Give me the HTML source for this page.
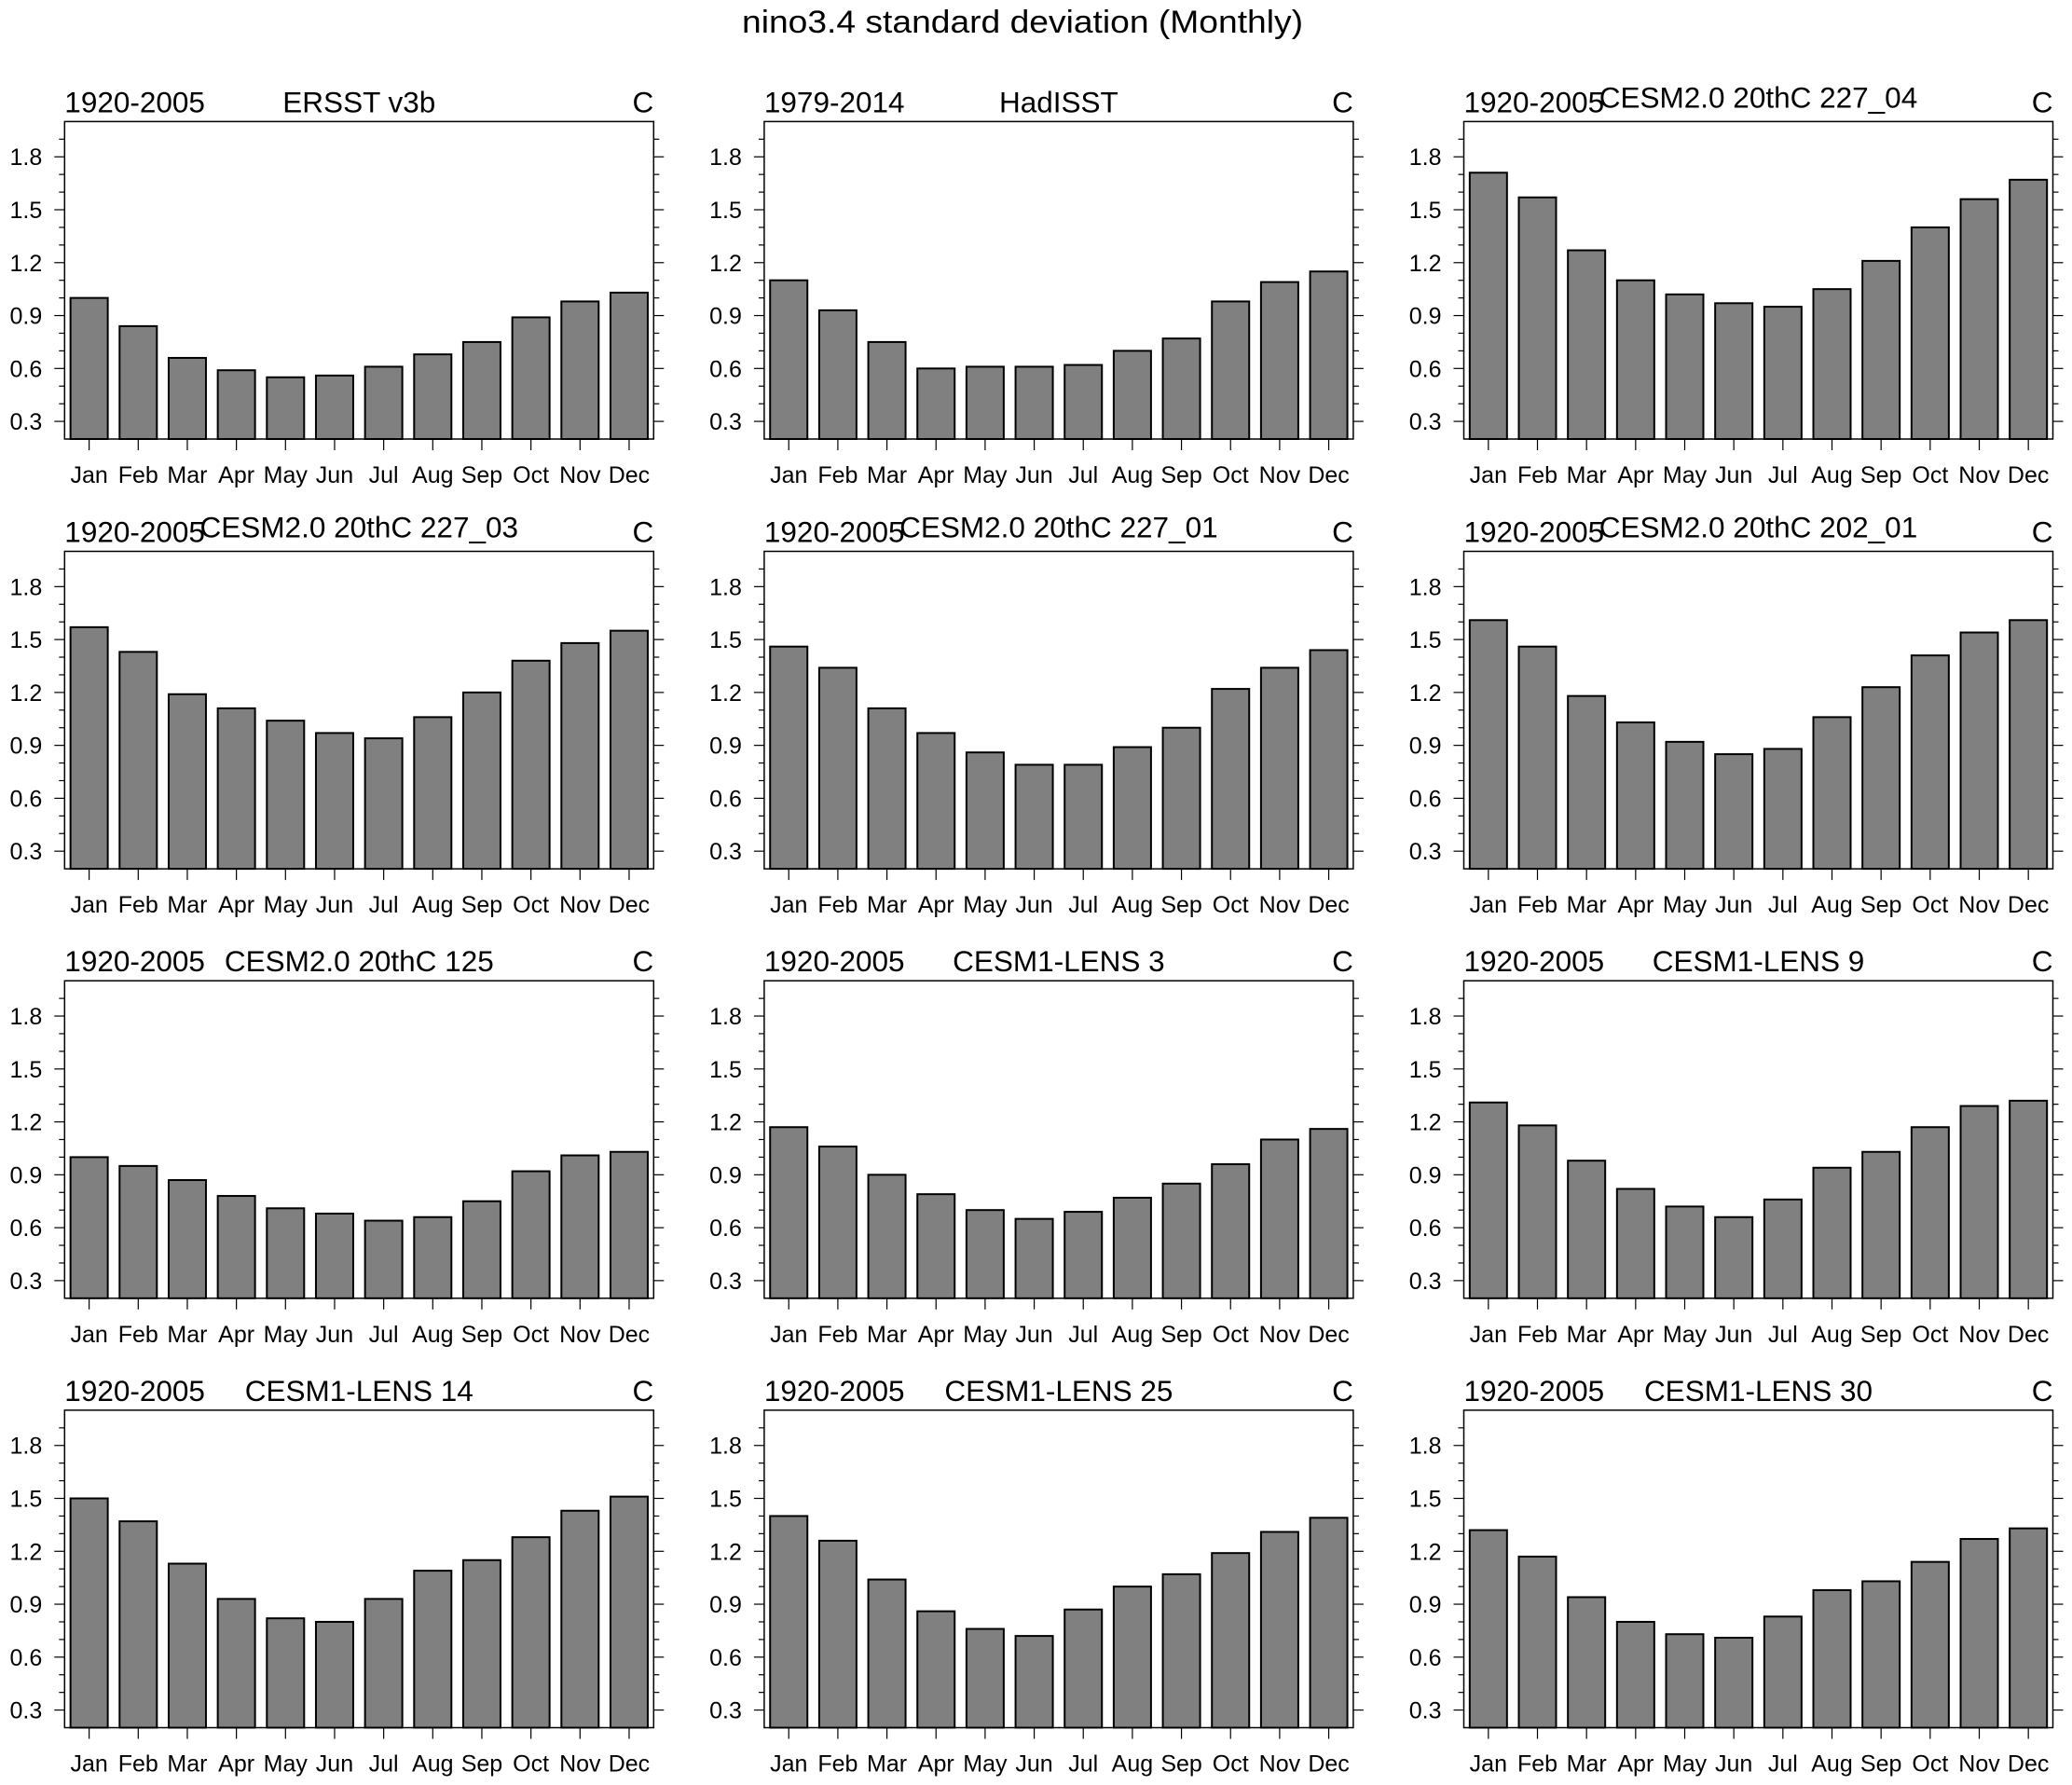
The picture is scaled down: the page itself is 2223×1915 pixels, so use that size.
<!DOCTYPE html>
<html><head><meta charset="utf-8"><style>
html,body{margin:0;padding:0;background:#fff;}
svg{display:block;font-family:"Liberation Sans",Arial,sans-serif;}
</style></head><body>
<svg id="fig" width="2223" height="1915" viewBox="0 0 2223 1915" xmlns="http://www.w3.org/2000/svg">
<rect x="0" y="0" width="2223" height="1915" fill="#fff"/>
<text x="1097" y="35" font-size="34" text-anchor="middle" textLength="602" lengthAdjust="spacingAndGlyphs">nino3.4 standard deviation (Monthly)</text>
</svg>
<script>
const months = ["Jan","Feb","Mar","Apr","May","Jun","Jul","Aug","Sep","Oct","Nov","Dec"];
const panelNames = ["ERSST v3b","HadISST","CESM2.0 20thC 227_04","CESM2.0 20thC 227_03","CESM2.0 20thC 227_01","CESM2.0 20thC 202_01","CESM2.0 20thC 125","CESM1-LENS 3","CESM1-LENS 9","CESM1-LENS 14","CESM1-LENS 25","CESM1-LENS 30"];
const periods = ["1920-2005","1979-2014","1920-2005","1920-2005","1920-2005","1920-2005","1920-2005","1920-2005","1920-2005","1920-2005","1920-2005","1920-2005"];
const yTicks = [0.3,0.6,0.9,1.2,1.5,1.8];
const yTickLabels = ["0.3","0.6","0.9","1.2","1.5","1.8"];
const ersst = [1.00,0.84,0.66,0.59,0.55,0.56,0.61,0.68,0.75,0.89,0.98,1.03];
const hadisst = [1.10,0.93,0.75,0.60,0.61,0.61,0.62,0.70,0.77,0.98,1.09,1.15];
const cesm2_227_04 = [1.71,1.57,1.27,1.10,1.02,0.97,0.95,1.05,1.21,1.40,1.56,1.67];
const cesm2_227_03 = [1.57,1.43,1.19,1.11,1.04,0.97,0.94,1.06,1.20,1.38,1.48,1.55];
const cesm2_227_01 = [1.46,1.34,1.11,0.97,0.86,0.79,0.79,0.89,1.00,1.22,1.34,1.44];
const cesm2_202_01 = [1.61,1.46,1.18,1.03,0.92,0.85,0.88,1.06,1.23,1.41,1.54,1.61];
const cesm2_125 = [1.00,0.95,0.87,0.78,0.71,0.68,0.64,0.66,0.75,0.92,1.01,1.03];
const lens3 = [1.17,1.06,0.90,0.79,0.70,0.65,0.69,0.77,0.85,0.96,1.10,1.16];
const lens9 = [1.31,1.18,0.98,0.82,0.72,0.66,0.76,0.94,1.03,1.17,1.29,1.32];
const lens14 = [1.50,1.37,1.13,0.93,0.82,0.80,0.93,1.09,1.15,1.28,1.43,1.51];
const lens25 = [1.40,1.26,1.04,0.86,0.76,0.72,0.87,1.00,1.07,1.19,1.31,1.39];
const lens30 = [1.32,1.17,0.94,0.80,0.73,0.71,0.83,0.98,1.03,1.14,1.27,1.33];
const allSeries = [ersst,hadisst,cesm2_227_04,cesm2_227_03,cesm2_227_01,cesm2_202_01,cesm2_125,lens3,lens9,lens14,lens25,lens30];

const NS = "http://www.w3.org/2000/svg";
const svg = document.getElementById("fig");
const colLeft = [69.3, 819.9, 1570.5], rowTop = [130.4, 591.5, 1052.2, 1512.9];
const PW = 632, PH = 340.6, YMIN = 0.2, YMAX = 2.0;
function mk(tag, attrs, parent){ const e=document.createElementNS(NS,tag); for(const k in attrs) e.setAttribute(k,attrs[k]); parent.appendChild(e); return e; }

allSeries.forEach((vals, i) => {
  const L = colLeft[i%3], T = rowTop[Math.floor(i/3)];
  const g = mk("g", {}, svg);
  
  
  const xs = k => L + (k + 0.5) * PW / 12;
  const ys = v => T + PH - (v - YMIN) / (YMAX - YMIN) * PH;
  vals.forEach((v, k) => {
    const w = 40, y = ys(v);
    const r = mk("rect", {x: xs(k)-w/2, y: y, width: w, height: T+PH-y, fill: "#808080", stroke: "#000", "stroke-width": 2}, g);
    
    
  });
  const fr = mk("rect", {x: L, y: T, width: PW, height: PH, fill: "none", stroke: "#000", "stroke-width": 1.5}, g);
  
  
  for (let m = 3; m <= 19; m++) {
    const v = m / 10, y = ys(v);
    const major = yTicks.some(t => Math.abs(t - v) < 1e-6);
    const len = major ? 11 : 6;
    mk("line", {x1: L-len, y1: y, x2: L, y2: y, stroke: "#000", "stroke-width": 1.2}, g);
    mk("line", {x1: L+PW, y1: y, x2: L+PW+len, y2: y, stroke: "#000", "stroke-width": 1.2}, g);
  }
  yTicks.forEach((t, k) => {
    const tx = mk("text", {x: L-24, y: ys(t)+9, "font-size": 25, "text-anchor": "end"}, g);
    tx.textContent = yTickLabels[k];
    
    
  });
  months.forEach((m, k) => {
    mk("line", {x1: xs(k), y1: T+PH, x2: xs(k), y2: T+PH+12, stroke: "#000", "stroke-width": 1.2}, g);
    const tx = mk("text", {x: xs(k), y: T+PH+47, "font-size": 25, "text-anchor": "middle"}, g);
    tx.textContent = m;
    
    
  });
  const long = panelNames[i].length >= 20;
  const t1 = mk("text", {x: L, y: T-10, "font-size": 31.5}, g);
  t1.textContent = periods[i];
  
  
  const t2 = mk("text", {x: L+PW/2, y: T-(long?15:10), "font-size": 31.5, "text-anchor": "middle"}, g);
  t2.textContent = panelNames[i];
  
  
  const t3 = mk("text", {x: L+PW, y: T-10, "font-size": 31.5, "text-anchor": "end"}, g);
  t3.textContent = "C";
  
  
});
</script>
</body></html>
